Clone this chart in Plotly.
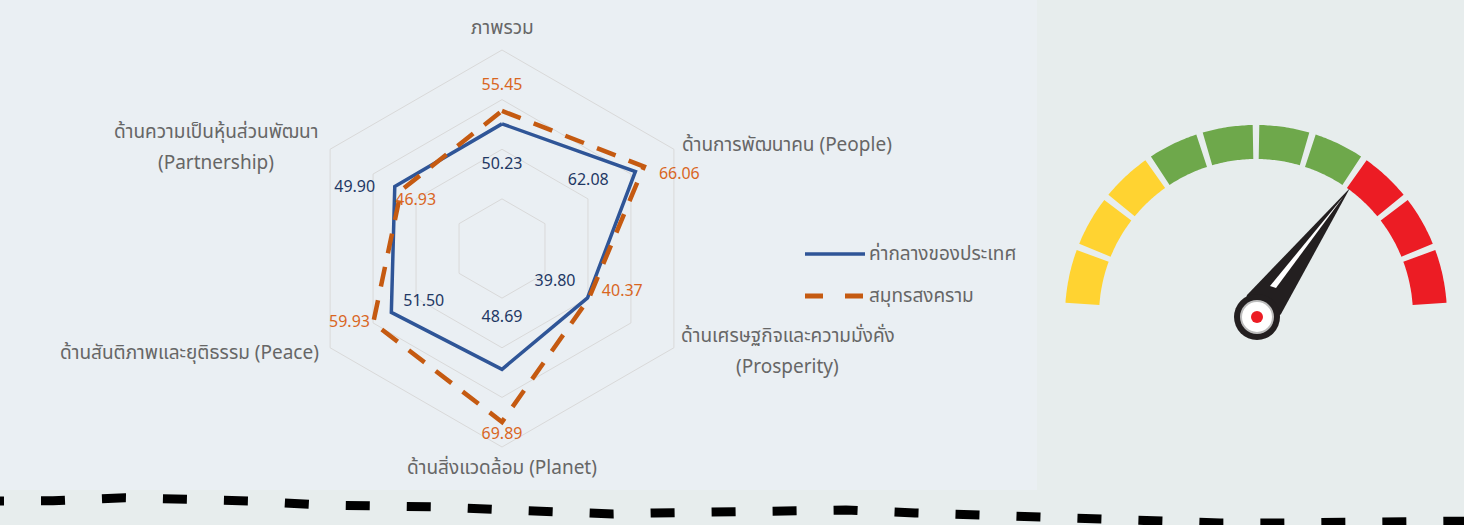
import math

import plotly.graph_objects as go

# --- data ---
categories = [
    "ภาพรวม",
    "ด้านการพัฒนาคน (People)",
    "ด้านเศรษฐกิจและความมั่งคั่ง<br>(Prosperity)",
    "ด้านสิ่งแวดล้อม (Planet)",
    "ด้านสันติภาพและยุติธรรม (Peace)",
    "ด้านความเป็นหุ้นส่วนพัฒนา<br>(Partnership)",
]
series_names = ["ค่ากลางของประเทศ", "สมุทรสงคราม"]
national = [50.23, 62.08, 39.80, 48.69, 51.50, 49.90]
province = [55.45, 66.06, 40.37, 69.89, 59.93, 46.93]

# --- style ---
FONT = "Noto Sans Thai, Tahoma, Noto Sans, sans-serif"
BLUE, BLUE_TXT = "#2f5597", "#1f3864"
ORANGE, ORANGE_TXT = "#c55a11", "#d9661f"
GREY_TXT = "#666666"
W, H = 1464, 525
R_MAX = 80
CX, CY, R_PX = 502, 248.5, 198.5  # radar centre / outer radius in pixels
LINE_GAP = 31  # px between the two lines of a wrapped category label

angles = [i * 60 for i in range(len(categories))]

# label placement: angle offset (deg) and radius (axis units)
blue_dtheta = [0, -8.1, 2.3, 0, -4.4, -7.6]
blue_dr = [-16.5, -17.9, -14.5, -20.6, -13.3, 14.3]
orange_dtheta = [0, 7.5, -10.1, 0, 3.9, -1.1]
orange_dr = [9.9, 11.3, 11.2, 5.1, 8.5, -7.2]
cat_dtheta = [0, 10.2, -10.0, 0, 11.5, -10.6]
cat_r = [88.7, 122.2, 122.5, 88.7, 132.9, 122.1]

fig = go.Figure()

# page background panel
fig.add_shape(type="rect", xref="x", yref="y", x0=0, x1=1037, y0=0, y1=490,
              fillcolor="#eaeff3", line_width=0, layer="below")


def closed(v):
    return list(v) + [v[0]]


fig.add_trace(go.Scatterpolar(
    r=closed(national), theta=closed(categories), mode="lines",
    line=dict(color=BLUE, width=3.5), name=series_names[0], showlegend=False,
))
fig.add_trace(go.Scatterpolar(
    r=closed(province), theta=closed(categories), mode="lines",
    line=dict(color=ORANGE, width=4.5, dash="20px,14px"), name=series_names[1],
    showlegend=False,
))

# value labels (overlay polar with numeric angles)
for vals, dth, dr, col in ((national, blue_dtheta, blue_dr, BLUE_TXT),
                           (province, orange_dtheta, orange_dr, ORANGE_TXT)):
    fig.add_trace(go.Scatterpolar(
        r=[v + d for v, d in zip(vals, dr)],
        theta=[a + d for a, d in zip(angles, dth)],
        mode="text", text=[f"{v:.2f}" for v in vals],
        textfont=dict(color=col, size=16, family=FONT),
        showlegend=False, hoverinfo="skip", subplot="polar2", cliponaxis=False,
    ))

# category labels, placed outside the radar (polar -> pixel)
for name, a, da, r in zip(categories, angles, cat_dtheta, cat_r):
    t = math.radians(a + da)
    rp = r / R_MAX * R_PX
    x, y = CX + rp * math.sin(t), CY - rp * math.cos(t)
    lines = name.split("<br>")
    y0 = y - LINE_GAP * (len(lines) - 1) / 2
    for k, line in enumerate(lines):
        fig.add_annotation(x=x, y=y0 + k * LINE_GAP,
                           xref="x", yref="y", text=line, showarrow=False,
                           xanchor="center", yanchor="middle",
                           font=dict(color=GREY_TXT, size=19, family=FONT))

domain = dict(x=[(CX - R_PX) / W, (CX + R_PX) / W],
              y=[1 - (CY + R_PX) / H, 1 - (CY - R_PX) / H])
fig.update_layout(
    polar=dict(
        domain=domain,
        gridshape="linear",
        bgcolor="rgba(0,0,0,0)",
        radialaxis=dict(range=[0, R_MAX], dtick=20, showticklabels=False, ticks="",
                        showline=False, gridcolor="#d9d9d9", gridwidth=1),
        angularaxis=dict(
            rotation=90, direction="clockwise", ticks="", showticklabels=False,
            showgrid=False, linecolor="#d9d9d9", linewidth=1,
        ),
    ),
    polar2=dict(
        domain=domain,
        bgcolor="rgba(0,0,0,0)",
        radialaxis=dict(range=[0, R_MAX], visible=False),
        angularaxis=dict(type="linear", thetaunit="degrees", rotation=90,
                         direction="clockwise", visible=False),
    ),
)

# --- manual legend ---
fig.add_shape(type="line", xref="x", yref="y", x0=805, x1=865, y0=254, y1=254,
              line=dict(color=BLUE, width=3.5))
fig.add_shape(type="line", xref="x", yref="y", x0=805, x1=865, y0=296, y1=296,
              line=dict(color=ORANGE, width=5, dash="18px,22px"))
for y, name in zip((254, 296), series_names):
    fig.add_annotation(x=867, y=y, xref="x", yref="y", text=name, showarrow=False,
                       xanchor="left", yanchor="middle",
                       font=dict(color=GREY_TXT, size=19, family=FONT))

# --- gauge decoration ---
cx, cy, R_out, R_in = 1256, 316, 191, 157
gauge_colors = ["#ffd331"] * 3 + ["#6ea84b"] * 4 + ["#ec1c24"] * 3
start, end, gap = 176.0, 4.0, 2.0
step = (start - end) / len(gauge_colors)


def arc_pts(r, a0, a1, n=24):
    pts = []
    for k in range(n + 1):
        a = math.radians(a0 + (a1 - a0) * k / n)
        pts.append((cx + r * math.cos(a), cy - r * math.sin(a)))
    return pts


for i, col in enumerate(gauge_colors):
    a0 = start - i * step - (gap / 2 if i > 0 else 0)
    a1 = start - (i + 1) * step + (gap / 2 if i < len(gauge_colors) - 1 else 0)
    pts = arc_pts(R_out, a0, a1) + arc_pts(R_in, a1, a0)
    path = "M " + " L ".join(f"{x:.1f},{y:.1f}" for x, y in pts) + " Z"
    fig.add_shape(type="path", xref="x", yref="y", path=path, fillcolor=col, line_width=0)

# needle
fig.add_shape(type="path", xref="x", yref="y",
              path="M 1350,188 L 1281,314 L 1262,334 L 1240,318 L 1247,295 Z",
              fillcolor="#231f20", line_width=0)
fig.add_shape(type="path", xref="x", yref="y",
              path="M 1344,196 L 1276,288 L 1270,286 Z",
              fillcolor="#ffffff", line_width=0)
for r, col in ((23, "#231f20"), (17, "#bdbdbd"), (15, "#ffffff"), (6, "#ec1c24")):
    fig.add_shape(type="circle", xref="x", yref="y", x0=1257 - r, x1=1257 + r,
                  y0=317 - r, y1=317 + r, fillcolor=col, line_width=0)

# hand-drawn dashed divider
div_x = [-20, 53, 125, 182, 252, 320, 388, 439, 495, 556, 613, 654, 717, 787, 846,
         915, 982, 1051, 1102, 1159, 1220, 1278, 1317, 1380, 1450, 1480]
div_y = [501, 500.7, 497.7, 498.5, 501, 505, 505, 507, 509.5, 512.5, 514, 513, 512,
         509.5, 510, 513, 515.5, 516, 518, 520.5, 523, 523, 523, 523, 521, 521]
fig.add_trace(go.Scatter(x=div_x, y=div_y, mode="lines",
                         line=dict(color="#000000", width=9, dash="24px,37px"),
                         showlegend=False, hoverinfo="skip"))

fig.update_layout(
    width=W, height=H,
    margin=dict(l=0, r=0, t=0, b=0),
    paper_bgcolor="#e7eded",
    plot_bgcolor="rgba(0,0,0,0)",
    showlegend=False,
    font=dict(family=FONT),
    xaxis=dict(range=[0, W], visible=False, fixedrange=True),
    yaxis=dict(range=[H, 0], visible=False, fixedrange=True),
)

fig.write_html("out.html", config={"displayModeBar": False},
               post_script="document.body.style.margin='0px';")
